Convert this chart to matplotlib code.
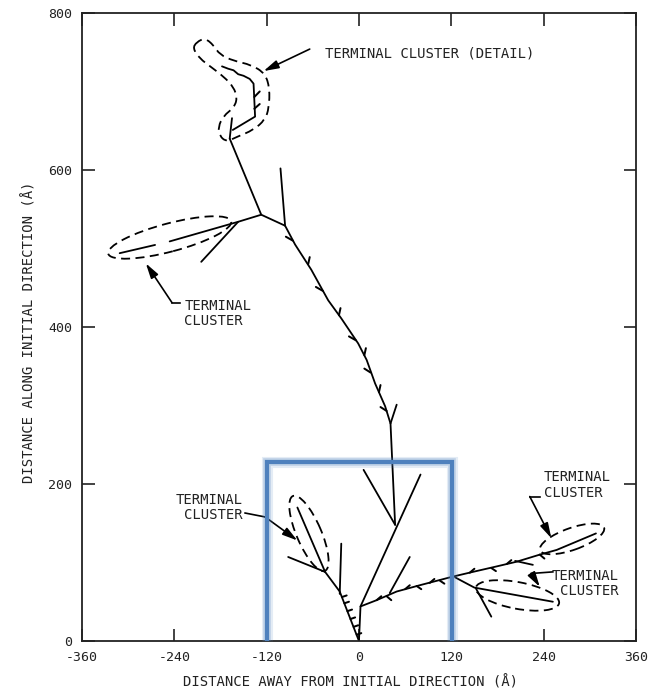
import numpy as np
import matplotlib
matplotlib.use("Agg")
import matplotlib.pyplot as plt
from matplotlib.patches import Ellipse, PathPatch
from matplotlib.path import Path
import matplotlib.patheffects as pe

plt.rcParams['font.family'] = ['DejaVu Sans Mono']
plt.rcParams['axes.unicode_minus'] = False

# ---------------- data (Angstrom) ----------------
x_ticks = [-360, -240, -120, 0, 120, 240, 360]
y_ticks = [0, 200, 400, 600, 800]

# main trunk: top cluster base -> junctions -> down to middle branch
trunk_x = [-168, -127, -96, -83, -62, -40, -23, -1, 10, 21, 34, 41, 47]
trunk_y = [640, 543, 529, 505, 473, 434, 411, 379, 358, 328, 299, 277, 148]

# side spurs of trunk
spur_j2_x = [-96, -102]
spur_j2_y = [529, 602]
spur_y_x = [41, 49]
spur_y_y = [277, 301]
v_left_x = [6, 47]
v_left_y = [218, 148]

# middle branch from origin
mid_x = [0, 2, 80]
mid_y = [0, 44, 212]

# lower-left branch
ll_x = [0, -25, -44]
ll_y = [0, 63, 88]
ll_spur_x = [-25, -23]
ll_spur_y = [60, 124]
ll_side_x = [-44, -92]
ll_side_y = [88, 107]
ll_clus_x = [-44, -80]
ll_clus_y = [88, 170]

# right branch
r_x = [2, 23, 49, 79, 122, 148, 179, 205, 235, 257, 308]
r_y = [44, 52, 63, 71, 82, 88, 95, 101, 110, 116, 137]
r_spur_x = [40, 66]
r_spur_y = [61, 107]
r_back_x = [203, 226]
r_back_y = [102, 97]
lr_x = [125, 150, 252]
lr_y = [81, 68, 50]
lr_spur_x = [152, 172]
lr_spur_y = [67, 31]

# upper-left terminal cluster
ul_a_x = [-127, -157, -246]
ul_a_y = [543, 534, 509]
ul_b_x = [-265, -311]
ul_b_y = [504.5, 494]
ul_side_x = [-157, -205]
ul_side_y = [534, 483]

# top terminal cluster
tc_spur_x = [-168, -165]
tc_spur_y = [640, 666]
tc_x = [-164, -135, -137, -142, -150, -157, -163, -170, -178]
tc_y = [651, 668, 710, 716, 720, 722, 727, 729, 732]
tc_barb_x0 = [-136, -136]
tc_barb_y0 = [693, 678]
tc_barb_x1 = [-129, -129]
tc_barb_y1 = [700, 684]

# top cluster dashed outline
tco_x = [-211, -200, -189, -181, -163, -140, -122, -116, -117, -122, -137, -159,
         -172, -181, -183, -176, -163, -158, -163, -176, -192, -207, -216]
tco_y = [763, 768, 759, 747, 739, 734, 723, 704, 679, 664, 651, 642,
         636, 643, 655, 669, 679, 691, 706, 719, 731, 742, 755]

# barbs on trunk
tb_x0 = [-86, -66, -47, -26, -4, 7, 15, 26, 36]
tb_y0 = [510, 480, 446, 415, 383, 364, 342, 317, 293]
tb_x1 = [-95, -64, -56, -24, -13, 9, 7, 28, 28]
tb_y1 = [515, 489, 451, 424, 388, 373, 347, 326, 298]

# barbs on right branch
rb_x0 = [23, 36, 60, 75, 92, 105, 144, 172, 192, 235]
rb_y0 = [52, 57, 66, 70, 74, 77, 87, 93, 98, 110]
rb_x1 = [29, 42, 66, 81, 98, 111, 150, 178, 198, 241]
rb_y1 = [57, 52, 71, 66, 79, 73, 92, 89, 103, 105]

# barbs on lower-left branch
lb_x0 = [-3, -7, -11, -15, -19, -22]
lb_y0 = [8, 18, 28, 38, 48, 56]
lb_x1 = [3, -1, -5, -9, -13, -16]
lb_y1 = [10, 20, 30, 40, 50, 58]

# dashed ellipses: center x, center y, length, width, angle
ell_cx = [-65, -246, 206, 277]
ell_cy = [137, 514, 58, 130]
ell_w = [104, 165, 110, 88]
ell_h = [32, 36, 34, 28]
ell_ang = [113.7, 14.5, -10.4, 19.0]

# annotation arrows (polyline, last point = tip)
arrows = {
    'detail': ([-64, -124], [754, 726]),
    'ul': ([-233, -243, -277], [431, 431, 481]),
    'll': ([-148, -122, -80], [163, 158, 128]),
    'ur': ([235, 222, 250], [184, 184, 131]),
    'lr': ([252, 224, 235], [88, 86, 69]),
}
labels = [
    ('TERMINAL CLUSTER (DETAIL)', -44, 748, 'left'),
    ('TERMINAL\nCLUSTER', -227, 417, 'left'),
    ('TERMINAL\nCLUSTER', -151, 170, 'right'),
    ('TERMINAL\nCLUSTER', 240, 199, 'left'),
    ('TERMINAL\nCLUSTER', 338, 73, 'right'),
]

# blue highlight box
box_x = [-120, -120, 121, 121]
box_y = [0, 228, 228, 0]

# ---------------- drawing ----------------
fig = plt.figure(figsize=(6.49, 6.94), dpi=100)
ax = fig.add_axes([0.1263, 0.0764, 0.8536, 0.9049])
ax.set_xlim(-360, 360)
ax.set_ylim(0, 800)

lw = 1.3
k = 'black'
for xs, ys in [(trunk_x, trunk_y), (spur_j2_x, spur_j2_y), (spur_y_x, spur_y_y),
               (v_left_x, v_left_y), (mid_x, mid_y), (ll_x, ll_y), (ll_spur_x, ll_spur_y),
               (ll_side_x, ll_side_y), (ll_clus_x, ll_clus_y), (r_x, r_y),
               (r_spur_x, r_spur_y), (r_back_x, r_back_y), (lr_x, lr_y),
               (lr_spur_x, lr_spur_y), (ul_a_x, ul_a_y), (ul_b_x, ul_b_y),
               (ul_side_x, ul_side_y), (tc_spur_x, tc_spur_y), (tc_x, tc_y)]:
    ax.plot(xs, ys, color=k, lw=lw, solid_capstyle='round', solid_joinstyle='round')

for x0s, y0s, x1s, y1s in [(tb_x0, tb_y0, tb_x1, tb_y1), (rb_x0, rb_y0, rb_x1, rb_y1),
                           (lb_x0, lb_y0, lb_x1, lb_y1),
                           (tc_barb_x0, tc_barb_y0, tc_barb_x1, tc_barb_y1)]:
    for a, b, c, d in zip(x0s, y0s, x1s, y1s):
        ax.plot([a, c], [b, d], color=k, lw=lw * 1.1, solid_capstyle='round')

dash = (0, (5, 3))
for cx, cy, w, h, a in zip(ell_cx, ell_cy, ell_w, ell_h, ell_ang):
    ax.add_patch(Ellipse((cx, cy), w, h, angle=a, fill=False, ec=k, lw=1.3, ls=dash))

# smooth closed outline for top cluster (quadratic bezier through midpoints)
pts = np.column_stack([tco_x, tco_y]).astype(float)
n = len(pts)
mids = (pts + np.roll(pts, -1, axis=0)) / 2.0
verts = [mids[-1]]
codes = [Path.MOVETO]
for i in range(n):
    verts += [pts[i], mids[i]]
    codes += [Path.CURVE3, Path.CURVE3]
ax.add_patch(PathPatch(Path(verts, codes), fill=False, ec=k, lw=1.3, ls=dash))

for name, (xs, ys) in arrows.items():
    ax.plot(xs[:-1], ys[:-1], color=k, lw=1.2)
    ax.annotate('', xy=(xs[-1], ys[-1]), xytext=(xs[-2], ys[-2]),
                arrowprops=dict(arrowstyle='-|>,head_length=0.9,head_width=0.25',
                                color=k, lw=1.2, shrinkA=0, shrinkB=0))

for txt, x, y, ha in labels:
    ax.text(x, y, txt, ha=ha, va='center', multialignment=ha, fontsize=10,
            linespacing=1.15, color='#222222')

# blue box with glow
ax.plot(box_x, box_y, color='#4f81bd', lw=3.0, solid_capstyle='butt',
        solid_joinstyle='miter', zorder=5,
        path_effects=[pe.Stroke(linewidth=8, foreground='#4f81bd', alpha=0.15),
                      pe.Stroke(linewidth=5.5, foreground='#4f81bd', alpha=0.25),
                      pe.Normal()], clip_on=False)

ax.set_xticks(x_ticks)
ax.set_yticks(y_ticks)
ax.tick_params(direction='in', length=9, width=1.2, top=True, right=True,
               labelsize=9.5, pad=7, colors='#222222')
for s in ax.spines.values():
    s.set_linewidth(1.3)
    s.set_color('#222222')

ax.set_xlabel('DISTANCE AWAY FROM INITIAL DIRECTION (Å)', fontsize=10, va='center',
              color='#222222')
ax.xaxis.set_label_coords(0.484, -0.065)
ax.set_ylabel('DISTANCE ALONG INITIAL DIRECTION (Å)', fontsize=10, va='center',
              color='#222222')
ax.yaxis.set_label_coords(-0.096, 0.492)

fig.savefig('out.png', dpi=100)
